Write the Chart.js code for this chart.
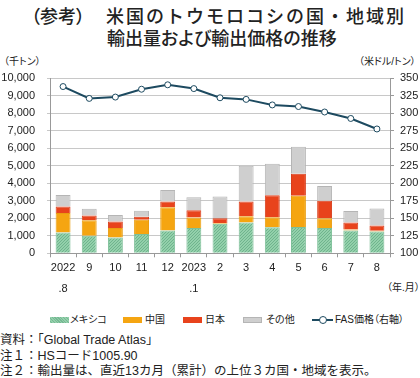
<!DOCTYPE html>
<html><head><meta charset="utf-8">
<script src="https://cdn.jsdelivr.net/npm/chart.js@4/dist/chart.umd.min.js"></script>
<style>
body{margin:0;width:420px;height:378px;position:relative;background:#fff;overflow:hidden;font-family:"Liberation Sans","Noto Sans CJK JP",sans-serif;color:#222}
.a{position:absolute;white-space:nowrap;}
.p{font-feature-settings:'palt';}
.cjk{font-family:"Noto Sans CJK JP",sans-serif;}
#wrap{position:absolute;left:0;top:55px;width:420px;height:250px;}
.sw{position:absolute;height:6px;width:19px;}
</style></head><body>
<div class="a cjk p" style="left:31px;top:3px;font-size:18px;line-height:24px;font-weight:500">（参考）</div>
<div class="a cjk" style="left:106px;top:3px;font-size:18px;line-height:24px;font-weight:500;letter-spacing:2px">米国のトウモロコシの国・地域別</div>
<div class="a cjk p" style="left:107px;top:25px;font-size:18px;line-height:24px;font-weight:500">輸出量および輸出価格の推移</div>
<div class="a p" style="left:4px;top:55px;font-size:10px;line-height:14px">（千トン）</div>
<div class="a p" style="left:359px;top:55px;font-size:10px;line-height:14px">（米ドル/トン）</div>
<div class="a p" style="left:387px;top:281px;font-size:10px;line-height:14px">（年.月）</div>
<div id="wrap"><canvas id="c"></canvas></div>
<div id="legend"></div>
<div class="a" style="left:0px;top:333px;font-size:12.5px;line-height:15.5px">資料：「Global Trade Atlas」<br>注１：HSコード1005.90<br>注２：輸出量は、直近13カ月（累計）の上位３カ国・地域を表示。</div>
<script>
const categories = [["2022",".8"],"9","10","11","12",["2023",".1"],"2","3","4","5","6","7","8"];
const mexico = [1180,1000,900,1100,1300,1440,1690,1760,1490,1500,1440,1300,1240];
const china  = [1120,880,550,820,1330,600,40,360,560,1790,560,60,50];
const japan  = [370,280,370,160,330,420,270,830,1260,1250,1000,400,290];
const other  = [650,380,360,350,650,740,1240,2040,1800,1540,840,650,970];
const fasPrice = [337.8,320.9,322.8,334,340.3,334.9,321.8,319.5,311.6,309.3,301.5,292.3,277.3];
const seriesNames = ["メキシコ","中国","日本","その他","FAS価格（右軸）"];

function greenPattern(){
  const p=document.createElement('canvas');p.width=3;p.height=3;
  const g=p.getContext('2d');g.fillStyle='#93d0ab';g.fillRect(0,0,3,3);
  g.fillStyle='#6fb48d';g.fillRect(0,0,1,1);g.fillRect(1,2,1,1);g.fillRect(2,1,1,1);
  return g.createPattern(p,'repeat');
}
const gp = greenPattern();
const colors = {mex:'#8fcfa8', chn:'#f5a511', jpn:'#e8431c', oth:'#cfcfcf', line:'#1d4a60'};

const leg = document.getElementById('legend');
const items = [
  {x:50, tx:70, c:colors.mex, n:seriesNames[0], pat:true},
  {x:123, tx:145, c:colors.chn, n:seriesNames[1]},
  {x:183, tx:205, c:colors.jpn, n:seriesNames[2]},
  {x:243, tx:266, c:colors.oth, n:seriesNames[3], b:'#b5b5b5'},
];
items.forEach(it=>{
  const s=document.createElement('div');s.className='sw';
  s.style.left=it.x+'px';s.style.top='317px';s.style.background=it.c;
  if(it.b){s.style.boxSizing='border-box';s.style.border='1px solid '+it.b;}
  if(it.pat){s.style.background='repeating-linear-gradient(45deg,#93d0ab 0 1px,#76b893 1px 2px)';}
  leg.appendChild(s);
  const t=document.createElement('div');t.className='a p';t.style.left=it.tx+'px';t.style.top='313px';
  t.style.fontSize='10px';t.style.lineHeight='14px';t.textContent=it.n;leg.appendChild(t);
});
{
  const l=document.createElement('div');l.className='a';
  l.style.cssText='left:312px;top:319px;width:21px;height:2px;background:'+colors.line;leg.appendChild(l);
  const c=document.createElement('div');c.className='a';
  c.style.cssText='left:319px;top:316px;width:6px;height:6px;border-radius:50%;background:#fff;border:1px solid '+colors.line;leg.appendChild(c);
  const t=document.createElement('div');t.className='a p';t.style.cssText='left:335px;top:313px;font-size:10px;line-height:14px';
  t.textContent=seriesNames[4];leg.appendChild(t);
}

const barCommon = {stack:'s', yAxisID:'y', borderWidth:1, barPercentage:0.57, categoryPercentage:1.0, order:2};
new Chart(document.getElementById('c'),{
  type:'bar',
  data:{labels:categories,datasets:[
    {label:seriesNames[0],data:mexico,backgroundColor:gp,borderColor:'#7dbf98',...barCommon},
    {label:seriesNames[1],data:china,backgroundColor:colors.chn,borderColor:'#e99d10',...barCommon},
    {label:seriesNames[2],data:japan,backgroundColor:colors.jpn,borderColor:'#d83d1a',...barCommon},
    {label:seriesNames[3],data:other,backgroundColor:colors.oth,borderColor:'#b5b5b5',...barCommon},
    {type:'line',label:seriesNames[4],data:fasPrice,yAxisID:'y1',borderColor:colors.line,borderWidth:2,
     pointRadius:3,pointBackgroundColor:'#fff',pointBorderColor:colors.line,pointBorderWidth:1,tension:0,order:1}
  ]},
  options:{
    responsive:true,maintainAspectRatio:false,animation:false,
    layout:{padding:{top:23,left:0,right:0,bottom:0}},
    plugins:{legend:{display:false},tooltip:{enabled:false}},
    scales:{
      x:{stacked:true,
         grid:{offset:true,drawOnChartArea:false,drawTicks:true,tickLength:4,color:'#999'},
         border:{color:'#999'},
         ticks:{color:'#222',font:{family:'Liberation Sans',size:11,lineHeight:1.9},padding:0,maxRotation:0,autoSkip:false},
         afterFit:s=>{s.height=51.7;}},
      y:{stacked:true,position:'left',min:0,max:10000,
         ticks:{stepSize:1000,color:'#222',font:{family:'Liberation Sans',size:11},padding:12,
           callback:v=>v.toLocaleString('en-US')},
         grid:{color:'#c8c8c8',tickLength:3,drawTicks:true},
         border:{color:'#999'},
         afterFit:s=>{s.width=50;}},
      y1:{position:'right',min:100,max:350,
         ticks:{stepSize:25,color:'#222',font:{family:'Liberation Sans',size:11},padding:6},
         grid:{drawOnChartArea:false,drawTicks:true,tickLength:4,color:'#999'},
         border:{color:'#999'},
         afterFit:s=>{s.width=30;}}
    }
  }
});
</script>
</body></html>
